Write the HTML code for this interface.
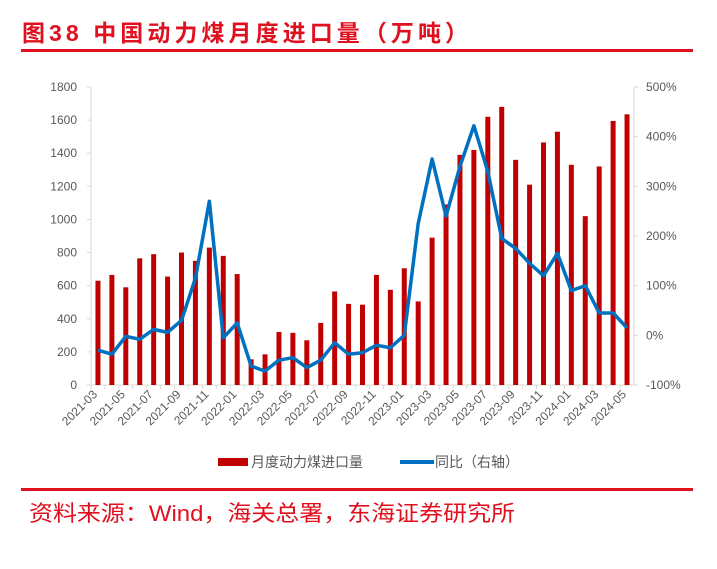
<!DOCTYPE html>
<html><head><meta charset="utf-8">
<style>
body{margin:0;width:717px;height:564px;background:#fff;overflow:hidden;font-family:"Liberation Sans","Noto Sans CJK SC",sans-serif;}
</style></head>
<body>
<svg id="chart" width="717" height="564" xmlns="http://www.w3.org/2000/svg">
<text x="22" y="41" font-size="23" font-weight="bold" fill="#e0101e" textLength="446" lengthAdjust="spacing">图38  中国动力煤月度进口量（万吨）</text>
<rect x="21" y="49" width="672" height="3" fill="#e0101e"/>
<g id="axes"></g>
<g id="bars"></g>
<g id="line"></g>
<g>
<rect x="218" y="458" width="30" height="8" fill="#c00000"/>
<text x="251" y="467" font-size="14" fill="#595959" textLength="112" lengthAdjust="spacingAndGlyphs">月度动力煤进口量</text>
<rect x="400" y="460" width="34" height="4" fill="#0070c0"/>
<text x="435" y="467" font-size="14" fill="#595959" textLength="84" lengthAdjust="spacingAndGlyphs">同比（右轴）</text>
</g>
<rect x="21" y="488" width="672" height="3" fill="#e0101e"/>
<text x="29" y="521" font-size="22" fill="#e0101e" textLength="486" lengthAdjust="spacingAndGlyphs">资料来源：Wind，海关总署，东海证券研究所</text>
</svg>
<script>
const months=["2021-03","2021-04","2021-05","2021-06","2021-07","2021-08","2021-09","2021-10","2021-11","2021-12","2022-01","2022-02","2022-03","2022-04","2022-05","2022-06","2022-07","2022-08","2022-09","2022-10","2022-11","2022-12","2023-01","2023-02","2023-03","2023-04","2023-05","2023-06","2023-07","2023-08","2023-09","2023-10","2023-11","2023-12","2024-01","2024-02","2024-03","2024-04","2024-05"];
const volume=[630,665,590,765,790,655,800,750,830,780,670,155,185,320,315,270,375,565,490,485,665,575,705,505,890,1090,1390,1420,1620,1680,1360,1210,1465,1530,1330,1020,1320,1595,1635];
const yoy=[-30,-38,-2,-8,12,6,30,115,270,-5,25,-62,-72,-50,-45,-65,-50,-15,-38,-35,-20,-25,0,225,355,240,340,422,330,195,175,145,120,165,90,100,45,45,15];
const leftTicks=[0,200,400,600,800,1000,1200,1400,1600,1800];
const rightTicks=[-100,0,100,200,300,400,500];
const NS="http://www.w3.org/2000/svg";
const X0=91,X1=634,Y0=385,Y1=87;
const step=(X1-X0)/months.length;
const xC=i=>X0+step*(i+0.5);
const yL=v=>Y0-(v/1800)*(Y0-Y1);
const yR=v=>Y0-((v+100)/600)*(Y0-Y1);
function mk(tag,attrs,parent){const e=document.createElementNS(NS,tag);for(const k in attrs)e.setAttribute(k,attrs[k]);parent.appendChild(e);return e;}
const axes=document.getElementById('axes');
const la=mk('line',{x1:X0,y1:Y1,x2:X0,y2:Y0,stroke:'#d9d9d9'},axes);


const ra=mk('line',{x1:X1,y1:Y1,x2:X1,y2:Y0,stroke:'#d9d9d9'},axes);


const xa=mk('line',{x1:X0,y1:Y0,x2:X1,y2:Y0,stroke:'#d9d9d9'},axes);


leftTicks.forEach(v=>{
  mk('line',{x1:X0-4,y1:yL(v),x2:X0,y2:yL(v),stroke:'#d9d9d9'},axes);
  const t=mk('text',{x:X0-14,y:yL(v)+4,'font-size':12,fill:'#595959','text-anchor':'end'},axes);
  t.textContent=v;
  
  
});
rightTicks.forEach(v=>{
  mk('line',{x1:X1,y1:yR(v),x2:X1+4,y2:yR(v),stroke:'#d9d9d9'},axes);
  const t=mk('text',{x:X1+12,y:yR(v)+4,'font-size':12,fill:'#595959'},axes);
  t.textContent=v+'%';
  
  
});
months.forEach((m,i)=>{
  mk('line',{x1:X0+step*i,y1:Y0,x2:X0+step*i,y2:Y0+4,stroke:'#d9d9d9'},axes);
  if(i%2===0){
    const x=xC(i),y=Y0+10;
    const t=mk('text',{x:x,y:y,'font-size':12,fill:'#595959','text-anchor':'end',transform:`rotate(-45 ${x} ${y})`},axes);
    t.textContent=m;
    
    
  }
});
const bars=document.getElementById('bars');
volume.forEach((v,i)=>{
  const r=mk('rect',{x:xC(i)-2.5,y:yL(v),width:5,height:Y0-yL(v),fill:'#c00000'},bars);
  
  
});
const lg=document.getElementById('line');
const p=mk('polyline',{points:yoy.map((v,i)=>xC(i)+','+yR(v)).join(' '),fill:'none',stroke:'#0070c0','stroke-width':3.5,'stroke-linejoin':'round'},lg);


</script>
</body></html>
